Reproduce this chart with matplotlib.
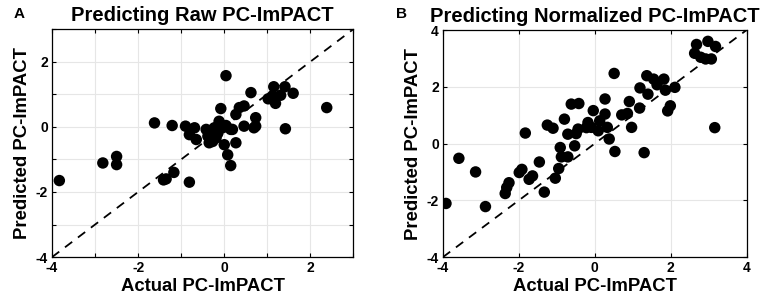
import numpy as np
import matplotlib
matplotlib.use("Agg")
import matplotlib.pyplot as plt
from matplotlib.ticker import MultipleLocator

plt.rcParams["font.family"] = ["Liberation Sans", "DejaVu Sans"]
plt.rcParams["font.weight"] = "bold"
plt.rcParams["axes.unicode_minus"] = False

# Panel A: raw PC-ImPACT (actual, predicted)
raw_actual = [-3.83, -2.82, -2.5, -2.5, -1.62, -1.21, -1.41, -1.35, -1.17, -0.81,
              -0.90, -0.69, -0.81, -0.65, -0.42, -0.38, -0.35, -0.23, -0.19, -0.12,
              -0.08, -0.04, 0.0, 0.08, 0.15, 0.15, 0.27, 0.27, 0.35, 0.46,
              0.46, 0.62, 0.69, 0.73, 1.02, 1.12, 1.15, 1.19, 1.31, 1.41,
              1.42, 1.60, 2.38, 0.04, -0.31, -0.27, -0.15, 0.04, 0.19, 0.73]
raw_pred = [-1.65, -1.11, -0.91, -1.16, 0.12, 0.04, -1.63, -1.6, -1.4, -1.70,
            0.02, -0.03, -0.24, -0.39, -0.08, -0.29, -0.49, -0.03, -0.34, 0.17,
            0.56, -0.03, -0.55, -0.86, -1.19, -0.08, -0.49, 0.38, 0.59, 0.64,
            0.02, 1.05, -0.03, 0.28, 0.86, 0.95, 1.23, 0.72, 0.97, 1.23,
            -0.06, 1.03, 0.59, 1.57, -0.13, -0.45, -0.2, 0.04, -0.08, 0.02]

# Panel B: normalized PC-ImPACT (actual, predicted)
norm_actual = [-3.92, -3.58, -3.14, -2.88, -2.36, -2.32, -2.26, -1.99, -1.92, -1.83,
               -1.73, -1.64, -1.46, -1.33, -1.25, -1.10, -1.04, -0.95, -0.91, -0.88,
               -0.80, -0.71, -0.71, -0.62, -0.42, -0.53, -0.49, -0.44, -0.18, -0.04,
               -0.09, 0.09, 0.13, 0.27, 0.27, 0.33, 0.38, 0.53, 0.51, 0.71,
               0.86, 0.91, 0.97, 1.18, 1.19, 1.30, 1.37, 1.40, 1.55, 1.64,
               1.86, 1.82, 1.92, 1.99, 2.11, 2.63, 2.68, 2.79, 2.92, 2.98,
               3.07, 3.18, 3.16, -0.22]
norm_pred = [-2.11, -0.52, -1.0, -2.22, -1.76, -1.55, -1.38, -1.02, -0.91, 0.37,
             -1.26, -1.14, -0.65, -1.71, 0.65, 0.54, -1.22, -0.88, -0.14, -0.47,
             0.86, -0.47, 0.33, 1.39, 1.41, -0.08, 0.35, 0.51, 0.74, 1.16,
             0.57, 0.45, 0.80, 1.04, 1.57, 0.57, 0.16, -0.28, 2.47, 1.01,
             1.06, 1.48, 0.57, 1.25, 1.96, -0.32, 2.39, 1.74, 2.27, 2.07,
             1.88, 2.27, 1.15, 1.33, 1.98, 3.18, 3.49, 3.04, 2.98, 3.60,
             2.98, 3.42, 0.56, 0.56]

panels = [
    ("A", "Predicting Raw PC-ImPACT", raw_actual, raw_pred, (-4, 3), 1,
     [0.068, 0.143, 0.394, 0.76]),
    ("B", "Predicting Normalized PC-ImPACT", norm_actual, norm_pred, (-4, 4), 2,
     [0.579, 0.143, 0.397, 0.757]),
]

fig = plt.figure(figsize=(7.65, 3.0), dpi=100)

for letter, title, xs, ys, lim, gstep, rect in panels:
    ax = fig.add_axes(rect)
    ax.plot(lim, lim, color="black", ls=(0, (5, 4)), lw=1.3, zorder=2)
    ax.scatter(xs, ys, s=68, color="black", edgecolors="none", zorder=3)
    ax.set_xlim(lim)
    ax.set_ylim(lim)
    ax.xaxis.set_major_locator(MultipleLocator(2))
    ax.yaxis.set_major_locator(MultipleLocator(2))
    ax.xaxis.set_minor_locator(MultipleLocator(gstep))
    ax.yaxis.set_minor_locator(MultipleLocator(gstep))
    ax.grid(True, which="both", color="#e6e6e6", lw=0.8, zorder=0)
    ax.set_axisbelow(True)
    ax.tick_params(which="both", direction="in", top=True, right=True,
                   length=3, width=0.8, labelsize=10, pad=3)
    for lab in ax.get_xticklabels() + ax.get_yticklabels():
        lab.set_fontweight("bold")
    for sp in ax.spines.values():
        sp.set_linewidth(0.9)
    ax.set_xlabel("Actual PC-ImPACT", fontsize=13.3, fontweight="bold", labelpad=2)
    ax.set_ylabel("Predicted PC-ImPACT", fontsize=13.3, fontweight="bold", labelpad=3)
    ax.set_title(title, fontsize=14.5, fontweight="bold", pad=6)

fig.text(0.018, 0.955, "A", fontsize=11, fontweight="bold", va="center")
fig.text(0.518, 0.955, "B", fontsize=11, fontweight="bold", va="center")

fig.savefig("out.png", dpi=100)
